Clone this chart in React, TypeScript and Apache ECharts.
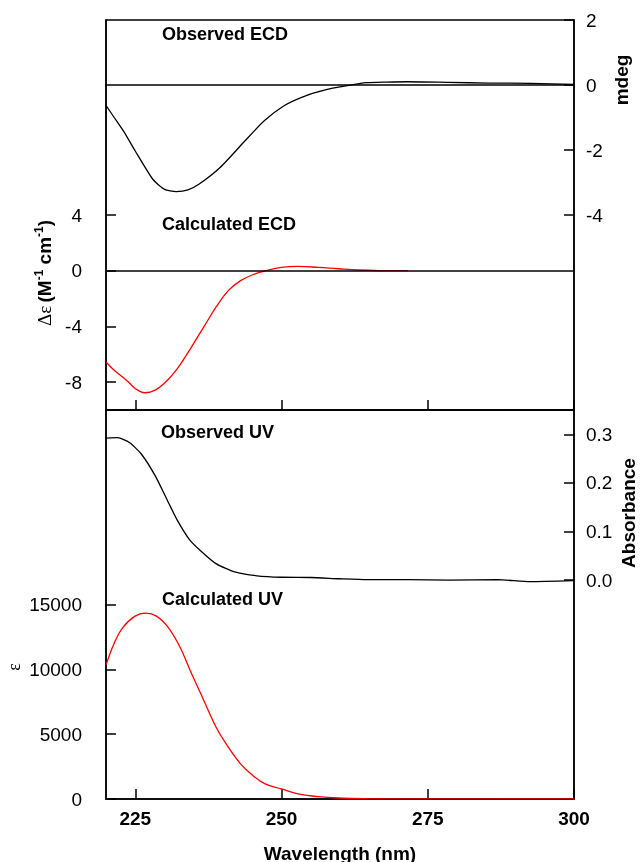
import React, { useEffect, useRef } from "react";
import * as echarts from "echarts";

// ---- data ----
const obsEcdNm = [220, 221.4, 223, 225, 228, 230, 232, 234, 236, 239.5, 243.5, 247, 250.5, 254, 257.5, 261, 264.5, 268, 271.5, 278.5, 285.5, 292.5, 300];
const obsEcd = [-0.63, -1.0, -1.42, -2.03, -2.9, -3.21, -3.28, -3.23, -3.04, -2.54, -1.77, -1.11, -0.63, -0.34, -0.15, -0.03, 0.07, 0.09, 0.1, 0.08, 0.06, 0.05, 0.02];

const calcEcdNm = [220, 221.4, 223.5, 225, 226.6, 228.4, 230.5, 232.6, 234.6, 236.7, 238.8, 240.9, 243, 245.1, 247.2, 250, 252.8, 256.3, 259.7, 263.2, 266.7, 271.6];
const calcEcd = [-6.55, -7.14, -7.86, -8.45, -8.76, -8.57, -7.86, -6.79, -5.48, -4.05, -2.62, -1.43, -0.71, -0.29, -0.02, 0.24, 0.31, 0.24, 0.14, 0.05, 0.01, 0];

const obsUvNm = [220, 222, 224, 226, 228.4, 230.5, 232.2, 234.3, 236.4, 238.8, 242, 245.8, 250, 255, 259.8, 264.6, 271.6, 278.6, 287, 292.5, 300];
const obsUv = [0.292, 0.293, 0.283, 0.26, 0.215, 0.164, 0.123, 0.083, 0.058, 0.034, 0.017, 0.009, 0.006, 0.0055, 0.003, 0.001, 0.001, 0.0, 0.001, -0.003, -0.001];

const calcUvNm = [220, 221.4, 222.8, 224.9, 226.8, 228.7, 230.5, 232.6, 234.6, 236.7, 238.8, 240.9, 243, 245.1, 247.2, 250, 252.8, 256.3, 259.7, 264.6, 271.6, 280, 290, 300];
const calcUv = [10336, 12016, 13178, 14083, 14341, 14083, 13308, 11757, 9690, 7623, 5556, 4005, 2713, 1809, 1163, 775, 388, 181, 78, 26, 10, 5, 5, 5];

const wavelengthTicks = [225, 250, 275, 300];
const deltaEpsTicks = [-8, -4, 0, 4];
const mdegTicks = [-4, -2, 0, 2];
const epsTicks = [0, 5000, 10000, 15000];
const absTicks = [0, 0.1, 0.2, 0.3];

const FONT = "Liberation Sans, Arial, sans-serif";
const BLACK = "#000";
const RED = "#ff0000";

const pairs = (xs: number[], ys: number[]) => xs.map((x, i) => [x, ys[i]]);

export default function App() {
  const ref = useRef<HTMLDivElement>(null);
  useEffect(() => {
    if (!ref.current) return;
    const chart = echarts.init(ref.current, null, { renderer: "svg" });
    const lineStyle = { color: BLACK, width: 1.5 };
    const tickLabel = { color: BLACK, fontSize: 19, fontFamily: FONT };
    const yAxisBase = (gridIndex: number, position: string, min: number, max: number, ticks: number[], fmt?: (v: number) => string) => ({
      type: "value",
      gridIndex,
      position,
      min,
      max,
      axisLine: { show: true, onZero: false, lineStyle },
      axisTick: { show: true, inside: true, length: 10, customValues: ticks, lineStyle },
      axisLabel: {
        ...tickLabel,
        customValues: ticks,
        margin: position === "left" ? 24 : 12,
        formatter: fmt || ((v: number) => String(v)),
      },
      splitLine: { show: false },
    });
    const option: any = {
      animation: false,
      grid: [
        { left: 106, right: 66, top: 20, height: 390, show: true, borderColor: BLACK, borderWidth: 1.5, backgroundColor: "transparent" },
        { left: 106, right: 66, top: 410, height: 389, show: true, borderColor: BLACK, borderWidth: 1.5, backgroundColor: "transparent" },
      ],
      xAxis: [
        {
          type: "value", gridIndex: 0, min: 220, max: 300, position: "bottom",
          axisLine: { show: true, onZero: false, lineStyle },
          axisTick: { show: true, inside: true, length: 10, customValues: wavelengthTicks, lineStyle },
          axisLabel: { show: false },
          splitLine: { show: false },
        },
        {
          type: "value", gridIndex: 1, min: 220, max: 300, position: "bottom",
          axisLine: { show: true, onZero: false, lineStyle },
          axisTick: { show: true, inside: true, length: 10, customValues: wavelengthTicks, lineStyle },
          axisLabel: { ...tickLabel, fontWeight: "bold", customValues: wavelengthTicks, margin: 10 },
          splitLine: { show: false },
        },
      ],
      yAxis: [
        yAxisBase(0, "left", -10, 18, deltaEpsTicks),
        yAxisBase(0, "right", -10, 2, mdegTicks),
        yAxisBase(1, "left", 0, 30000, epsTicks),
        yAxisBase(1, "right", -0.45, 0.35, absTicks, (v: number) => v.toFixed(1)),
      ],
      series: [
        {
          type: "line", name: "Observed ECD", xAxisIndex: 0, yAxisIndex: 1,
          data: pairs(obsEcdNm, obsEcd), showSymbol: false, smooth: 0.2,
          lineStyle: { color: BLACK, width: 1.3 },
          markLine: { silent: true, symbol: "none", label: { show: false }, lineStyle: { color: BLACK, width: 1.5, type: "solid" }, data: [{ yAxis: 0 }] },
        },
        {
          type: "line", name: "Calculated ECD", xAxisIndex: 0, yAxisIndex: 0,
          data: pairs(calcEcdNm, calcEcd), showSymbol: false, smooth: 0.4,
          lineStyle: { color: RED, width: 1.3 },
          markLine: { silent: true, symbol: "none", label: { show: false }, lineStyle: { color: BLACK, width: 1.5, type: "solid" }, data: [{ yAxis: 0 }] },
        },
        {
          type: "line", name: "Observed UV", xAxisIndex: 1, yAxisIndex: 3,
          data: pairs(obsUvNm, obsUv), showSymbol: false, smooth: 0.2,
          lineStyle: { color: BLACK, width: 1.3 },
        },
        {
          type: "line", name: "Calculated UV", xAxisIndex: 1, yAxisIndex: 2,
          data: pairs(calcUvNm, calcUv), showSymbol: false, smooth: 0.4,
          lineStyle: { color: RED, width: 1.3 },
        },
      ],
      graphic: [
        { type: "text", left: 162, top: 25, style: { text: "Observed ECD", fill: BLACK, font: `bold 18px ${FONT}` } },
        { type: "text", left: 162, top: 215, style: { text: "Calculated ECD", fill: BLACK, font: `bold 18px ${FONT}` } },
        { type: "text", left: 161, top: 423, style: { text: "Observed UV", fill: BLACK, font: `bold 18px ${FONT}` } },
        { type: "text", left: 162, top: 590, style: { text: "Calculated UV", fill: BLACK, font: `bold 18px ${FONT}` } },
        { type: "text", x: 340, y: 853, style: { text: "Wavelength (nm)", fill: BLACK, font: `bold 19px ${FONT}`, align: "center", verticalAlign: "middle" } },
        { type: "text", x: 621, y: 80, rotation: Math.PI / 2, style: { text: "mdeg", fill: BLACK, font: `bold 19px ${FONT}`, align: "center", verticalAlign: "middle" } },
        { type: "text", x: 628, y: 513, rotation: Math.PI / 2, style: { text: "Absorbance", fill: BLACK, font: `bold 19px ${FONT}`, align: "center", verticalAlign: "middle" } },
        { type: "text", x: 14, y: 667, rotation: Math.PI / 2, style: { text: "ε", fill: BLACK, font: `18px Liberation Serif, serif`, align: "center", verticalAlign: "middle" } },
        {
          type: "text", x: 44, y: 273, rotation: Math.PI / 2,
          style: {
            text: "{g|Δε} {b|(M}{s|-1}{b| cm}{s|-1}{b|)}",
            align: "center", verticalAlign: "middle", fill: BLACK,
            rich: {
              g: { fontFamily: "Liberation Serif, serif", fontSize: 19, fill: BLACK, lineHeight: 22 },
              b: { fontFamily: FONT, fontWeight: "bold", fontSize: 19, fill: BLACK, lineHeight: 22 },
              s: { fontFamily: FONT, fontWeight: "bold", fontSize: 12, fill: BLACK, verticalAlign: "top", lineHeight: 22 },
            },
          },
        },
      ],
    };
    chart.setOption(option);
    return () => chart.dispose();
  }, []);
  return <div ref={ref} style={{ position: "fixed", left: 0, top: 0, width: 640, height: 862 }} />;
}
